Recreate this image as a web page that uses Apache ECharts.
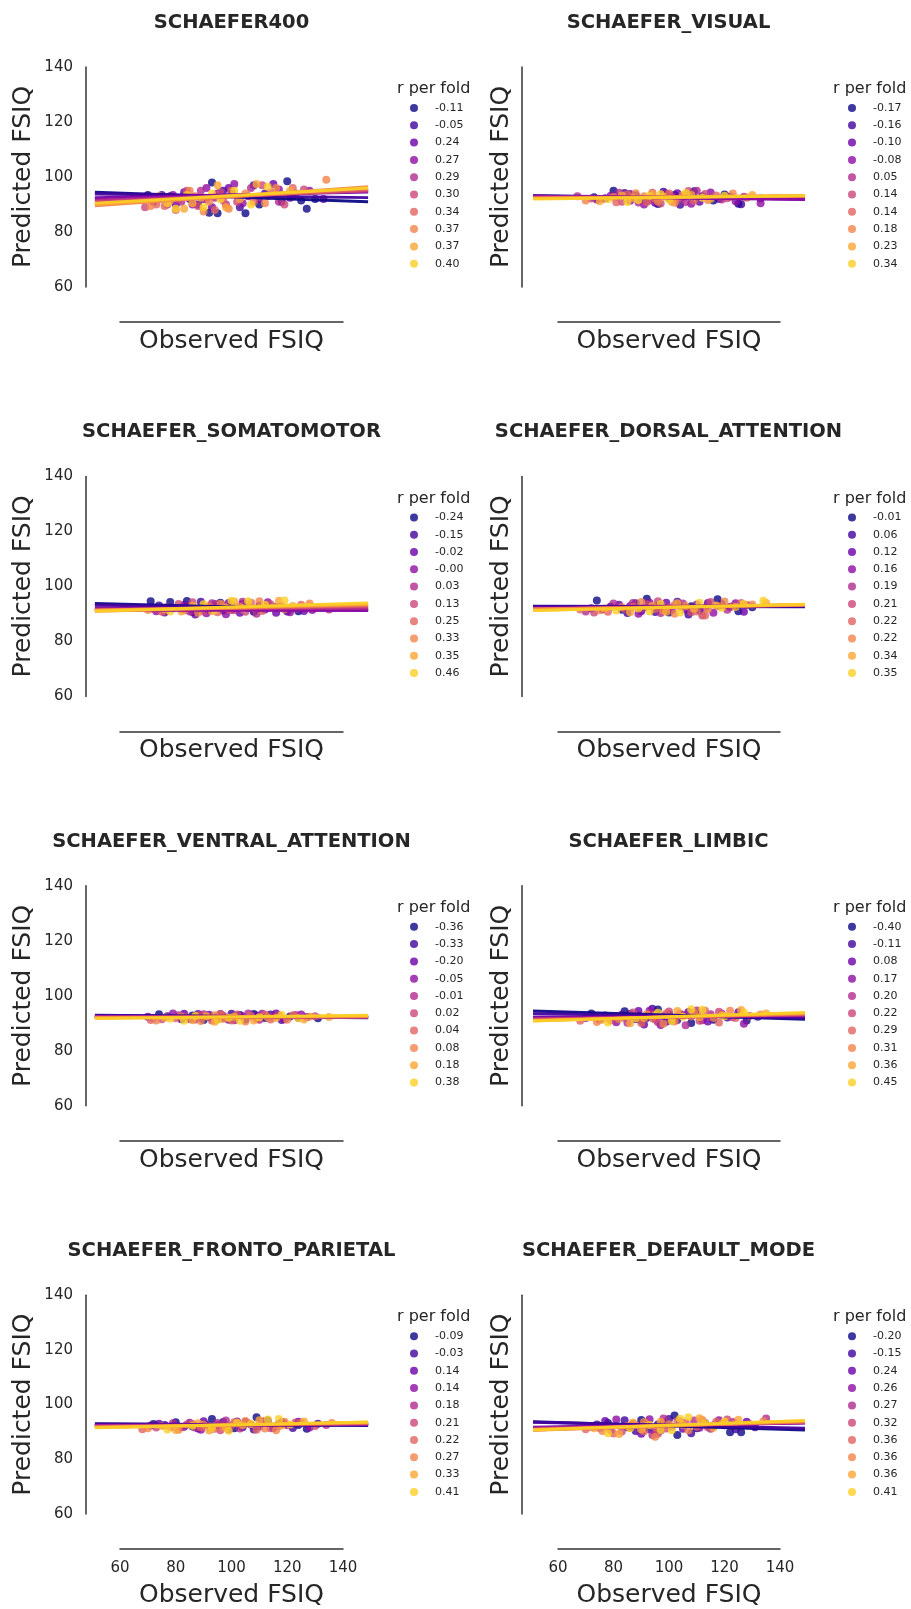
<!DOCTYPE html>
<html>
<head>
<meta charset="utf-8">
<script src="https://cdn.jsdelivr.net/npm/echarts@6/dist/echarts.min.js"></script>
<style>
html,body{margin:0;padding:0;background:#fff;}
#chart{width:911px;height:1609px;}
</style>
</head>
<body>
<div id="chart"></div>
<script>
// ---------------- DATA ----------------
const panelNames = ['SCHAEFER400','SCHAEFER_VISUAL','SCHAEFER_SOMATOMOTOR','SCHAEFER_DORSAL_ATTENTION',
  'SCHAEFER_VENTRAL_ATTENTION','SCHAEFER_LIMBIC','SCHAEFER_FRONTO_PARIETAL','SCHAEFER_DEFAULT_MODE'];

const rPerFold = [
  ['-0.11','-0.05','0.24','0.27','0.29','0.30','0.34','0.37','0.37','0.40'],
  ['-0.17','-0.16','-0.10','-0.08','0.05','0.14','0.14','0.18','0.23','0.34'],
  ['-0.24','-0.15','-0.02','-0.00','0.03','0.13','0.25','0.33','0.35','0.46'],
  ['-0.01','0.06','0.12','0.16','0.19','0.21','0.22','0.22','0.34','0.35'],
  ['-0.36','-0.33','-0.20','-0.05','-0.01','0.02','0.04','0.08','0.18','0.38'],
  ['-0.40','-0.11','0.08','0.17','0.20','0.22','0.29','0.31','0.36','0.45'],
  ['-0.09','-0.03','0.14','0.14','0.18','0.21','0.22','0.27','0.33','0.41'],
  ['-0.20','-0.15','0.24','0.26','0.27','0.32','0.36','0.36','0.36','0.41']
];

// data-area x range (regression lines span it)
const xDataRange = [51, 149];
// regression line per fold: predicted value at xDataRange[0] and at xDataRange[1]
const lineStartY = [
  [94.5,93.8,92.5,92.0,91.5,91.0,90.0,89.5,90.0,90.5],
  [93.2,93.1,93.0,93.0,92.7,92.5,92.4,92.3,92.2,92.0],
  [93.8,93.2,92.2,91.3,91.8,91.5,91.2,91.0,91.3,91.0],
  [92.8,92.6,92.3,92.0,91.9,91.8,91.7,91.8,91.3,91.2],
  [92.9,92.8,92.6,92.4,92.3,92.2,92.1,92.0,91.9,91.7],
  [94.5,93.5,92.2,91.8,91.6,91.5,91.2,91.0,90.9,90.8],
  [93.3,93.1,92.7,92.6,92.5,92.3,92.2,92.0,91.9,91.8],
  [94.0,93.8,92.0,91.8,91.6,91.3,91.0,90.9,91.2,91.0]
];
const lineEndY = [
  [91.0,92.5,94.5,94.8,95.0,95.0,95.5,96.5,96.0,96.0],
  [92.0,92.0,92.2,91.8,92.9,93.0,93.0,93.2,93.3,93.2],
  [91.2,91.5,91.9,91.2,92.1,92.6,93.0,93.3,93.5,94.0],
  [92.6,92.9,93.0,93.1,93.2,93.2,93.3,93.1,93.4,93.5],
  [92.0,92.1,92.2,92.3,92.3,92.4,92.4,92.5,92.7,92.9],
  [91.5,92.0,92.6,92.9,93.0,93.1,93.4,93.5,93.7,93.9],
  [92.6,92.8,93.1,93.0,93.2,93.3,93.4,93.6,93.8,93.9],
  [91.0,91.6,93.6,93.5,93.7,93.9,94.1,94.0,94.3,94.4]
];

const xTicks = [60, 80, 100, 120, 140];
const yTicks = [60, 80, 100, 120, 140];

// observed / predicted points, one list per fold
const pointsSchaefer400 = [
  [[70,93.5],[78,93],[92,87],[95,86.8],[93,98],[100,94],[105,86.8],[110,90],[120,98.5],[125,91.5],[127,88.5],[130,92]],
  [[68,92.5],[75,93.5],[85,92],[88,90],[97,95],[103,89],[108,97],[112,94],[118,91],[122,93]],
  [[72,91],[80,90],[83,94.5],[90,92],[93,89],[99,96],[106,93],[115,97.5],[121,92.5],[133,92]],
  [[74,92],[79,93.5],[86,90],[91,96],[95,94],[101,97.5],[104,90.5],[110,92],[117,95.5],[128,95]],
  [[70,92.5],[77,90],[82,91],[89,95],[94,92.5],[98,90],[107,96],[113,93],[117,91],[123,94]],
  [[69,89],[81,92],[84,95],[88,89.5],[91,92],[96,94.5],[102,91],[111,97],[119,90],[126,95.5]],
  [[73,90],[76,89.5],[80,88],[87,93],[94,88],[97,91.5],[100,95],[108,91],[114,94.5],[122,96]],
  [[71,89.5],[78,91.5],[85,95],[90,87.5],[92,91],[99,88.5],[105,94],[112,90.5],[116,96],[134,99]],
  [[74,93],[83,88.5],[86,90.5],[89,92.5],[95,97],[98,89],[103,92],[109,97.5],[116,93.5],[121,95]],
  [[77,90.5],[80,88.5],[84,93.5],[90,89],[93,94],[96,92],[101,95],[107,90],[113,96.5],[118,93]]
];
const pointsVisual = [
  [[80,95.0],[96,90.2],[109,94.8],[125,90.3],[90,92.0],[102,93.5],[116,91.5],[73,92.6],[120,93.6]],
  [[84,94.2],[98,94.6],[104,89.9],[126,90.1],[77,92.3],[92,91.3],[112,93.0],[118,92.0],[88,93.4]],
  [[74,91.8],[86,93.8],[95,90.6],[103,94.1],[111,91.0],[122,92.9],[133,92.2],[100,92.4],[81,92.9]],
  [[79,93.2],[91,90.0],[99,93.9],[108,90.3],[115,94.4],[124,91.2],[133,90.5],[86,91.4],[105,92.6]],
  [[67,93.0],[82,94.3],[93,91.5],[101,93.0],[110,95.0],[119,91.8],[127,92.8],[89,90.7],[106,90.9]],
  [[72,92.2],[83,91.0],[94,94.3],[103,91.6],[113,93.8],[121,92.3],[97,90.4],[107,94.9],[87,92.8]],
  [[76,92.0],[85,93.6],[92,90.9],[100,94.0],[109,91.4],[117,93.3],[128,92.5],[95,92.2],[81,90.8]],
  [[70,91.5],[80,92.7],[88,94.1],[96,91.1],[105,93.4],[114,91.6],[123,94.0],[102,90.6],[91,93.0]],
  [[75,91.2],[87,92.4],[94,93.9],[101,90.9],[108,93.5],[115,92.1],[130,93.5],[98,92.8],[83,93.3]],
  [[78,91.9],[85,90.9],[93,93.1],[100,91.8],[106,94.2],[112,92.5],[120,93.2],[97,93.7],[89,91.6]]
];
const pointsSomatomotor = [
  [[71,94.6],[78,94.3],[84,94.7],[92,91.5],[100,93.0],[108,90.8],[116,92.4],[124,91.0],[96,94.1]],
  [[74,93.1],[82,92.0],[89,94.4],[97,91.2],[104,93.7],[112,91.6],[120,90.9],[130,92.2],[86,90.7]],
  [[76,90.5],[87,89.8],[95,92.6],[103,90.4],[110,93.1],[116,90.4],[126,91.1],[99,94.0],[83,93.2]],
  [[73,91.0],[84,92.7],[91,90.2],[98,89.9],[106,92.3],[113,94.2],[121,90.6],[129,91.4],[94,93.6]],
  [[77,92.4],[85,90.9],[93,93.9],[101,91.4],[109,90.1],[118,92.8],[135,91.6],[88,91.9],[104,94.4]],
  [[72,91.8],[81,93.6],[90,91.0],[97,93.2],[105,90.8],[114,93.5],[123,92.0],[100,91.3],[86,94.2]],
  [[75,90.8],[83,91.3],[92,92.9],[99,91.8],[107,94.1],[115,92.4],[125,93.3],[95,90.6],[111,91.1]],
  [[70,91.4],[79,92.0],[88,90.4],[96,93.7],[103,92.6],[110,94.6],[119,91.7],[128,93.8],[91,92.5]],
  [[76,91.7],[86,93.0],[93,91.0],[101,94.5],[108,92.1],[117,94.8],[122,92.9],[98,92.2],[82,90.9]],
  [[78,90.9],[87,92.2],[94,91.5],[100,94.8],[106,94.6],[112,93.3],[119,94.9],[104,92.0],[90,93.5]]
];
const pointsDorsal = [
  [[74,94.9],[92,95.5],[117.5,95.3],[83,91.5],[100,90.5],[108,92.8],[125,91.0],[96,93.0],[130,92.4]],
  [[79,92.7],[88,93.9],[95,90.7],[103,94.4],[111,91.2],[119,93.6],[85,90.3],[107,89.8],[98,92.0]],
  [[72,92.1],[82,93.3],[90,91.0],[99,94.1],[106,91.6],[114,94.0],[122,92.5],[94,92.6],[127,90.8]],
  [[76,91.6],[86,92.9],[93,94.1],[101,91.4],[110,93.4],[116,90.4],[124,93.9],[89,90.1],[104,92.7]],
  [[70,90.9],[80,93.8],[91,92.3],[97,90.3],[105,93.8],[113,92.2],[121,91.5],[87,94.0],[128,93.2]],
  [[73,90.5],[84,91.8],[92,93.5],[100,92.3],[108,90.6],[115,94.3],[123,92.9],[96,94.6],[112,89.4]],
  [[68,91.6],[78,90.8],[87,92.6],[95,91.8],[102,93.2],[110,90.9],[118,92.8],[113,89.4],[126,94.0]],
  [[75,91.3],[83,92.4],[90,94.3],[98,91.2],[106,92.9],[114,91.7],[120,94.5],[102,90.1],[130,93.4]],
  [[77,92.0],[86,90.6],[94,92.9],[103,93.9],[109,91.9],[117,93.1],[124,92.5],[99,90.8],[135,94.0]],
  [[81,91.2],[89,92.0],[97,93.6],[104,90.5],[111,94.1],[119,92.2],[127,93.6],[93,90.9],[134,94.8]]
];
const pointsVentral = [
  [[74,93.3],[86,92.8],[95,91.6],[103,93.0],[112,91.9],[121,92.5],[131,91.8],[90,91.2],[108,93.4]],
  [[77,92.6],[88,93.4],[97,92.2],[105,91.4],[114,93.2],[124,92.0],[82,91.5],[100,93.5],[118,91.2]],
  [[70,92.4],[83,93.5],[92,93.1],[99,91.3],[109,92.8],[116,93.6],[127,92.3],[95,92.5],[85,91.6]],
  [[79,93.6],[89,91.9],[96,93.4],[104,92.6],[111,93.5],[119,91.5],[125,93.2],[101,91.1],[92,92.3]],
  [[72,91.9],[81,92.9],[90,93.3],[98,92.0],[106,93.6],[115,92.4],[123,93.0],[87,91.4],[110,91.3]],
  [[75,91.5],[84,92.2],[93,91.0],[102,93.2],[109,91.7],[117,92.9],[130,92.6],[97,92.8],[88,93.0]],
  [[71,91.2],[80,91.8],[91,92.5],[100,91.0],[107,92.7],[114,91.4],[122,92.9],[96,93.3],[112,93.2]],
  [[73,91.0],[82,92.5],[89,90.8],[97,91.6],[105,90.7],[113,92.1],[120,91.3],[94,92.9],[128,92.4]],
  [[76,92.1],[86,91.1],[94,90.6],[101,92.4],[108,91.0],[116,91.9],[126,91.4],[91,92.6],[135,92.3]],
  [[78,91.7],[87,92.7],[95,91.3],[103,90.9],[110,92.2],[118,93.0],[124,91.8],[99,92.0],[83,90.9]]
];
const pointsLimbic = [
  [[72,93.6],[84,94.4],[92,92.0],[100,93.2],[108,90.1],[116,91.3],[128,91.0],[96,95.0],[88,91.6]],
  [[77,92.8],[86,93.4],[94,95.3],[103,91.2],[110,93.7],[121,92.1],[132,92.4],[99,90.6],[90,90.9]],
  [[75,91.4],[83,93.1],[91,89.6],[98,92.6],[107,94.1],[114,90.7],[125,94.0],[102,92.0],[89,94.5]],
  [[70,91.9],[81,90.4],[89,92.8],[97,89.4],[105,93.0],[112,91.1],[119,93.5],[127,89.8],[93,94.6]],
  [[73,92.5],[85,90.2],[93,93.7],[101,91.0],[106,89.3],[115,93.3],[123,92.2],[96,90.5],[110,94.7]],
  [[79,91.1],[87,93.9],[95,91.4],[104,93.5],[111,90.9],[118,94.2],[129,92.7],[100,94.3],[84,92.0]],
  [[68,90.9],[80,92.2],[90,90.1],[99,93.6],[108,92.5],[113,94.6],[124,91.9],[94,91.8],[118,90.3]],
  [[74,90.5],[82,91.6],[92,93.3],[102,90.7],[109,93.9],[116,92.0],[122,94.6],[98,89.8],[133,93.2]],
  [[76,91.3],[86,90.0],[95,92.9],[103,94.5],[111,92.3],[119,93.0],[126,94.8],[91,91.9],[135,93.6]],
  [[78,90.3],[88,91.8],[96,93.8],[105,92.4],[112,94.9],[120,92.6],[127,93.9],[101,90.9],[108,95.1]]
];
const pointsFrontoParietal = [
  [[80,93.8],[93,95.0],[109,95.6],[127,91.4],[101,91.6],[117,93.1],[86,92.3],[72,93.2],[124,92.8]],
  [[76,92.8],[88,91.5],[97,93.9],[104,92.0],[113,94.4],[122,91.7],[91,93.0],[108,91.2],[131,93.3]],
  [[74,93.3],[83,92.2],[90,94.2],[99,91.3],[107,92.9],[115,91.7],[124,94.0],[95,92.7],[118,93.8]],
  [[71,92.6],[85,93.6],[93,91.5],[102,94.1],[110,92.3],[119,93.2],[128,91.9],[89,91.1],[105,93.9]],
  [[79,93.4],[87,91.9],[95,93.5],[103,91.5],[111,94.2],[120,92.7],[134,92.8],[98,94.4],[82,92.0]],
  [[73,91.9],[84,93.0],[92,92.2],[96,90.9],[106,93.4],[114,91.6],[123,93.7],[100,92.6],[130,92.4]],
  [[68,91.3],[78,92.1],[86,93.2],[94,91.4],[101,93.8],[109,91.1],[117,92.4],[125,93.6],[89,92.0]],
  [[70,91.6],[81,91.1],[90,92.9],[97,92.2],[105,94.3],[112,91.5],[119,94.0],[116,90.9],[136,93.5]],
  [[75,92.4],[80,91.0],[88,93.4],[98,91.7],[104,92.8],[110,94.5],[118,92.6],[126,94.1],[92,90.8]],
  [[77,91.2],[86,92.5],[93,91.6],[99,90.7],[107,93.2],[113,94.8],[121,93.0],[102,93.6],[117,95.0]]
];
const pointsDefaultMode = [
  [[78,93.5],[90,94.6],[102,96.3],[103,89.2],[122,90.2],[126,90.2],[110,91.6],[85,92.0],[96,93.0]],
  [[74,93.0],[84,94.5],[93,91.3],[100,95.0],[108,89.8],[116,92.6],[124,91.3],[88,90.6],[131,92.0]],
  [[77,94.3],[86,92.0],[90,89.6],[98,93.8],[105,91.4],[113,93.5],[120,92.7],[95,90.1],[128,94.0]],
  [[72,92.2],[81,94.8],[89,92.5],[97,90.8],[104,94.1],[111,91.8],[118,94.5],[93,94.9],[126,92.6]],
  [[79,91.0],[87,93.2],[94,89.2],[101,92.2],[109,94.4],[115,91.4],[123,93.9],[98,95.2],[135,95.2]],
  [[75,91.7],[83,90.4],[92,93.3],[99,91.5],[106,93.6],[114,92.0],[121,94.8],[96,89.6],[129,93.2]],
  [[70,91.3],[80,89.7],[88,92.8],[95,91.9],[103,94.3],[110,92.2],[117,94.0],[91,90.5],[124,92.9]],
  [[76,90.6],[85,92.4],[95,88.5],[100,93.1],[107,90.9],[112,94.6],[119,93.3],[91,93.9],[134,94.2]],
  [[73,91.6],[82,89.5],[90,91.2],[97,94.0],[105,92.9],[111,95.3],[116,91.8],[125,94.7],[87,93.7]],
  [[78,89.8],[86,91.6],[93,92.8],[101,90.9],[107,95.6],[113,93.4],[120,94.1],[104,95.1],[97,91.0]]
];

const allPoints = [pointsSchaefer400, pointsVisual, pointsSomatomotor, pointsDorsal,
  pointsVentral, pointsLimbic, pointsFrontoParietal, pointsDefaultMode];

// ---------------- STYLE / LAYOUT ----------------
const foldColors = ['#0d0887','#41049d','#6a00a8','#8f0da4','#b12a90','#cc4778','#e16462','#f2844b','#fca636','#fcce25'];
const FONT = 'DejaVu Sans';
const TXT = '#262626';
const colLeft = [120, 558];      // pixel of x = 60
const colWidth = [223, 222];     // pixels from x = 60 to x = 140
const yAxisOffset = [34, 36];
const titleX = [231.5, 668.5];
const legendTitleX = [397, 833];
const legendIconX = [414, 852];
const rowTop0 = 67, rowStep = 409.4, gridH = 220;

const grids = [], xAxes = [], yAxes = [], series = [], legends = [], titles = [];
const labelMap = {};
const xSpan = xTicks[xTicks.length - 1] - xTicks[0];

for (let p = 0; p < 8; p++) {
  const c = p % 2, r = Math.floor(p / 2);
  const top = rowTop0 + r * rowStep;
  const pxPerUnit = colWidth[c] / xSpan;
  // data grid (wider x range, hidden axes)
  grids.push({
    left: colLeft[c] - (xTicks[0] - xDataRange[0]) * pxPerUnit,
    top: top, width: (xDataRange[1] - xDataRange[0]) * pxPerUnit, height: gridH
  });
  // spine grid (trimmed axes 60..140)
  grids.push({left: colLeft[c], top: top, width: colWidth[c], height: gridH});

  xAxes.push({gridIndex: 2 * p, type: 'value', min: xDataRange[0], max: xDataRange[1], show: false});
  yAxes.push({gridIndex: 2 * p, type: 'value', min: yTicks[0], max: yTicks[yTicks.length - 1], show: false});

  xAxes.push({
    gridIndex: 2 * p + 1, type: 'value', min: xTicks[0], max: xTicks[xTicks.length - 1], interval: 20,
    offset: 35,
    axisLine: {show: true, lineStyle: {color: '#333', width: 1.5}},
    axisTick: {show: false}, splitLine: {show: false},
    axisLabel: {show: r === 3, fontSize: 15, color: TXT, margin: 12, fontFamily: FONT},
    name: 'Observed FSIQ', nameLocation: 'middle', nameGap: r === 3 ? 34 : 7,
    nameTextStyle: {fontSize: 25, color: TXT, fontFamily: FONT}
  });
  yAxes.push({
    gridIndex: 2 * p + 1, type: 'value', min: yTicks[0], max: yTicks[yTicks.length - 1], interval: 20,
    offset: yAxisOffset[c],
    axisLine: {show: true, lineStyle: {color: '#333', width: 1.5}},
    axisTick: {show: false}, splitLine: {show: false},
    axisLabel: {show: c === 0, fontSize: 15, color: TXT, margin: 13, fontFamily: FONT},
    name: 'Predicted FSIQ', nameLocation: 'middle', nameGap: c === 0 ? 50 : 8,
    nameTextStyle: {fontSize: 25, color: TXT, fontFamily: FONT}
  });
  titles.push({
    text: panelNames[p], left: titleX[c], top: 23 + r * rowStep, padding: 0,
    textAlign: 'center', textVerticalAlign: 'middle',
    textStyle: {fontSize: 19.5, fontWeight: 'bold', color: TXT, fontFamily: FONT}
  });
  titles.push({
    text: 'r per fold', left: legendTitleX[c], top: 89 + r * rowStep, padding: 0,
    textAlign: 'left', textVerticalAlign: 'middle',
    textStyle: {fontSize: 16, fontWeight: 'normal', color: TXT, fontFamily: FONT}
  });
  const names = [];
  for (let f = 0; f < 10; f++) {
    const nm = 'p' + p + 'f' + f;
    labelMap[nm] = rPerFold[p][f];
    names.push(nm);
    series.push({
      type: 'scatter', name: nm, xAxisIndex: 2 * p, yAxisIndex: 2 * p,
      data: allPoints[p][f], symbolSize: 8, clip: false,
      itemStyle: {color: foldColors[f], opacity: 0.8}
    });
    series.push({
      type: 'line', name: 'line_' + nm, xAxisIndex: 2 * p, yAxisIndex: 2 * p,
      data: [[xDataRange[0], lineStartY[p][f]], [xDataRange[1], lineEndY[p][f]]],
      symbol: 'none', showSymbol: false, clip: false, silent: true,
      lineStyle: {color: foldColors[f], width: 3, opacity: 0.95},
      itemStyle: {color: foldColors[f]}
    });
  }
  legends.push({
    data: names, left: legendIconX[c] - 4, top: 102 + r * rowStep, orient: 'vertical',
    padding: 0, itemWidth: 8, itemHeight: 8, itemGap: 5.3, icon: 'circle',
    selectedMode: false,
    formatter: n => '{a|' + labelMap[n] + '}',
    textStyle: {
      fontSize: 11, color: TXT, lineHeight: 12, fontFamily: FONT,
      rich: {a: {fontSize: 11, color: TXT, fontFamily: FONT, padding: [0, 0, 0, 12]}}
    }
  });
}

const chart = echarts.init(document.getElementById('chart'), null, {renderer: 'canvas'});
chart.setOption({
  animation: false,
  backgroundColor: '#fff',
  textStyle: {fontFamily: FONT},
  title: titles,
  legend: legends,
  grid: grids,
  xAxis: xAxes,
  yAxis: yAxes,
  series: series
});
</script>
</body>
</html>
